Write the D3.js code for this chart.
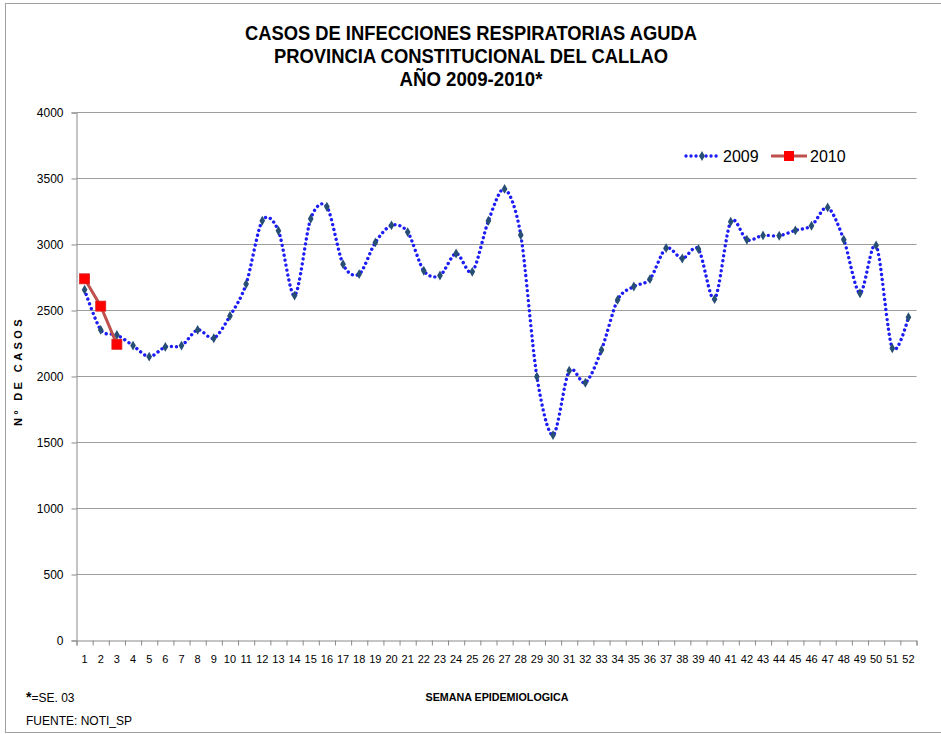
<!DOCTYPE html>
<html>
<head>
<meta charset="utf-8">
<script src="https://cdn.jsdelivr.net/npm/d3@7"></script>
<style>
  body { margin: 0; background: #fff; }
  svg text { fill: #000; }
</style>
</head>
<body>
<div id="chart"></div>
<script>
// Données : cas d'IRA par semaine épidémiologique
const weeks = d3.range(1, 53).map(String);
const cases2009 = [2657, 2353, 2315, 2234, 2150, 2224, 2234, 2353, 2290, 2459,
  2700, 3180, 3104, 2613, 3195, 3286, 2851, 2776, 3016, 3145,
  3094, 2801, 2765, 2932, 2793, 3180, 3421, 3072, 1999, 1556,
  2044, 1953, 2201, 2581, 2682, 2738, 2973, 2894, 2965, 2586,
  3173, 3036, 3069, 3066, 3107, 3142, 3281, 3036, 2631, 2993,
  2214, 2449];
const cases2010 = [2740, 2533, 2244];
const yTicks = [0, 500, 1000, 1500, 2000, 2500, 3000, 3500, 4000];
const titleLines = [
  "CASOS DE INFECCIONES RESPIRATORIAS AGUDA",
  "PROVINCIA CONSTITUCIONAL DEL CALLAO",
  "AÑO 2009-2010*"
];

const width = 941;
const height = 734;
const narrow = "'Liberation Sans Narrow', 'Arial Narrow', 'Liberation Sans', sans-serif";
const sans = "'Liberation Sans', Arial, sans-serif";

const svg = d3.select("#chart")
  .append("svg")
  .attr("width", width)
  .attr("height", height);

// Cadre du graphique
svg.append("rect")
  .attr("x", 5.5).attr("y", 3.5)
  .attr("width", 945).attr("height", 729)
  .attr("fill", "none")
  .attr("stroke", "#a0a0a0");

// Échelles
const x = d3.scaleBand().domain(weeks).range([76.5, 916.5]).padding(0);
const xEdge = d3.scaleLinear().domain([0, 52]).range([76.5, 916.5]);
const y = d3.scaleLinear().domain([0, 4000]).range([640.5, 112.5]);
const cx = (i) => x(weeks[i]) + x.bandwidth() / 2;

// Grille
svg.append("g")
  .selectAll("line")
  .data(yTicks.filter((d) => d > 0))
  .enter()
  .append("line")
  .attr("x1", 76.5).attr("x2", 916.5)
  .attr("y1", (d) => y(d)).attr("y2", (d) => y(d))
  .attr("stroke", "#9e9e9e")
  .attr("stroke-width", 1.2);

// Axe Y
const yAxis = svg.append("g")
  .attr("transform", "translate(76.5,0)")
  .call(d3.axisLeft(y).tickValues(yTicks).tickSize(5).tickPadding(8).tickFormat(d3.format("d")));
yAxis.select(".domain").attr("stroke", "#8a8a8a");
yAxis.selectAll(".tick line").attr("stroke", "#8a8a8a");
yAxis.selectAll("text")
  .style("font-family", sans)
  .style("font-size", "12px")
  .attr("fill", "#000");

// Axe X : graduations entre les catégories
const xTickAxis = svg.append("g")
  .attr("transform", "translate(0,640.5)")
  .call(d3.axisBottom(xEdge).tickValues(d3.range(0, 53)).tickSize(5).tickFormat(""));
xTickAxis.select(".domain").attr("stroke", "#8a8a8a");
xTickAxis.selectAll(".tick line").attr("stroke", "#8a8a8a");

const xLabelAxis = svg.append("g")
  .attr("transform", "translate(0,640.5)")
  .call(d3.axisBottom(x).tickSize(0).tickPadding(15));
xLabelAxis.select(".domain").remove();
xLabelAxis.selectAll("text")
  .style("font-family", narrow)
  .style("font-size", "11px")
  .attr("fill", "#000");

// Série 2009 : ligne lissée pointillée
const line = d3.line()
  .x((d, i) => cx(i))
  .y((d) => y(d))
  .curve(d3.curveCardinal.tension(0.1));

svg.append("path")
  .datum(cases2009)
  .attr("d", line)
  .attr("fill", "none")
  .attr("stroke", "#1c1cf5")
  .attr("stroke-width", 3.4)
  .attr("stroke-linecap", "round")
  .attr("stroke-dasharray", "0.01 5");

const diamond = d3.symbol().type(d3.symbolDiamond).size(28);
svg.append("g")
  .selectAll("path")
  .data(cases2009)
  .enter()
  .append("path")
  .attr("d", diamond)
  .attr("transform", (d, i) => `translate(${cx(i)},${y(d)})`)
  .attr("fill", "#274f74");

// Série 2010
const line2010 = d3.line()
  .x((d, i) => cx(i))
  .y((d) => y(d));

svg.append("path")
  .datum(cases2010)
  .attr("d", line2010)
  .attr("fill", "none")
  .attr("stroke", "#c0504d")
  .attr("stroke-width", 3);

svg.append("g")
  .selectAll("rect")
  .data(cases2010)
  .enter()
  .append("rect")
  .attr("x", (d, i) => cx(i) - 5)
  .attr("y", (d) => y(d) - 5)
  .attr("width", 10)
  .attr("height", 10)
  .attr("fill", "#ff0000")
  .attr("stroke", "#d82020")
  .attr("stroke-width", 0.8);

// Légende
const legend = svg.append("g").attr("transform", "translate(0,156)");
legend.append("line")
  .attr("x1", 686).attr("x2", 717)
  .attr("stroke", "#1c1cf5")
  .attr("stroke-width", 3.4)
  .attr("stroke-linecap", "round")
  .attr("stroke-dasharray", "0.01 5");
legend.append("path")
  .attr("d", diamond)
  .attr("transform", "translate(702,0)")
  .attr("fill", "#274f74");
legend.append("text")
  .attr("x", 723).attr("y", 6)
  .style("font-family", sans)
  .style("font-size", "16px")
  .text("2009");
legend.append("line")
  .attr("x1", 771).attr("x2", 807)
  .attr("stroke", "#c0504d")
  .attr("stroke-width", 3);
legend.append("rect")
  .attr("x", 784).attr("y", -5)
  .attr("width", 10).attr("height", 10)
  .attr("fill", "#ff0000");
legend.append("text")
  .attr("x", 810).attr("y", 6)
  .style("font-family", sans)
  .style("font-size", "16px")
  .text("2010");

// Titre
const titleWidths = [452, 394, 143];
svg.append("g")
  .selectAll("text")
  .data(titleLines)
  .enter()
  .append("text")
  .attr("x", 471)
  .attr("y", (d, i) => 40 + i * 23)
  .attr("text-anchor", "middle")
  .attr("textLength", (d, i) => titleWidths[i])
  .attr("lengthAdjust", "spacingAndGlyphs")
  .style("font-family", narrow)
  .style("font-weight", "bold")
  .style("font-size", "21px")
  .text((d) => d);

// Titres des axes
svg.append("text")
  .attr("transform", "translate(22,371) rotate(-90)")
  .attr("text-anchor", "middle")
  .style("font-family", sans)
  .style("font-weight", "bold")
  .style("font-size", "11px")
  .style("letter-spacing", "3.4px")
  .text("Nº DE CASOS");

svg.append("text")
  .attr("x", 497).attr("y", 701)
  .attr("text-anchor", "middle")
  .attr("textLength", 143)
  .attr("lengthAdjust", "spacingAndGlyphs")
  .style("font-family", narrow)
  .style("font-weight", "bold")
  .style("font-size", "11px")
  .text("SEMANA EPIDEMIOLOGICA");

// Notes
const note = svg.append("text")
  .attr("x", 26).attr("y", 702)
  .style("font-family", narrow)
  .style("font-size", "12px");
note.append("tspan").style("font-weight", "bold").style("font-size", "14px").text("*");
note.append("tspan").text("=SE. 03");

svg.append("text")
  .attr("x", 26).attr("y", 725)
  .style("font-family", narrow)
  .style("font-size", "12px")
  .text("FUENTE: NOTI_SP");
</script>
</body>
</html>
